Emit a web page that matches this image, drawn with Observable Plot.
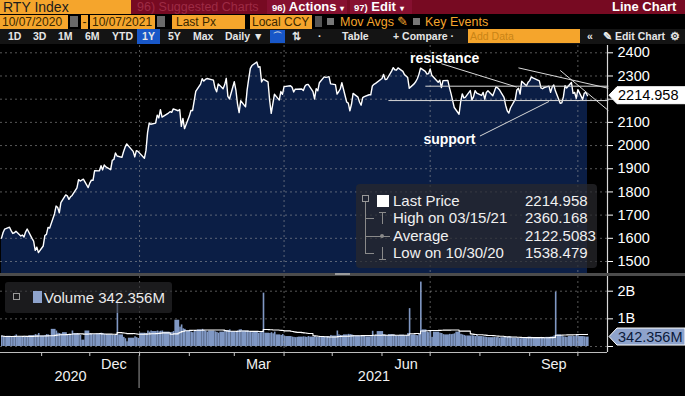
<!DOCTYPE html>
<html><head><meta charset="utf-8">
<script src="https://cdn.jsdelivr.net/npm/d3@7"></script>
<script src="https://cdn.jsdelivr.net/npm/@observablehq/plot@0.6"></script>
<style>
html,body{margin:0;padding:0;background:#000;}
body{width:685px;height:396px;overflow:hidden;font-family:"Liberation Sans",Arial,sans-serif;}
#wrap{position:relative;width:685px;height:396px;background:#000;}
.abs{position:absolute;white-space:nowrap;}
.r1{left:0;top:0;width:685px;height:14px;background:#770a22;}
.r2{left:0;top:14px;width:685px;height:15px;background:#000;}
.r3{left:0;top:29px;width:685px;height:15px;background:#141414;}
.ob{background:#f5a52c;color:#3a2800;font-size:12px;line-height:15px;height:14px;overflow:hidden;}
.r3 span{position:absolute;top:0;font-size:10.5px;line-height:15px;color:#e6e6e6;font-weight:bold;}
#main,#vol{position:absolute;left:0;}
#main{top:45px;} #vol{top:276px;}
#sep{left:0;top:273px;width:685px;height:3px;background:#4c4c4c;}
#legend{left:356px;top:184px;width:241px;height:84px;background:rgba(40,40,44,0.72);border-radius:4px;}
#legend .t{position:absolute;font-size:15px;line-height:16px;color:#f0f0f0;}
#vleg{left:5px;top:282px;width:167px;height:31px;background:rgba(45,45,48,0.6);border-radius:3px;}
</style></head>
<body><div id="wrap">
  <!-- header row 1 -->
  <div class="abs r1"></div>
  <div class="abs ob" style="left:0;top:0;width:131px;color:#1c1c1c;font-size:14px;line-height:14px;"><span style="padding-left:3px">RTY Index</span></div>
  <div class="abs" style="left:137px;top:0;font-size:12.5px;line-height:14px;color:#9e2b45;">96) Suggested Charts</div>
  <div class="abs" style="left:267px;top:0;width:80px;height:14px;background:#861030;"></div>
  <div class="abs" style="left:350px;top:0;width:62px;height:14px;background:#861030;"></div>
  <div class="abs" style="left:272px;top:0;font-size:13px;line-height:14px;color:#fff;font-weight:bold;"><span style="font-size:9.5px">96)</span> Actions <span style="font-size:8px">▾</span></div>
  <div class="abs" style="left:354px;top:0;font-size:13px;line-height:14px;color:#fff;font-weight:bold;"><span style="font-size:9.5px">97)</span> Edit <span style="font-size:8px">▾</span></div>
  <div class="abs" style="left:612px;top:0;font-size:13px;line-height:14px;color:#fff;font-weight:bold;">Line Chart</div>
  <!-- header row 2 -->
  <div class="abs r2"></div>
  <div class="abs ob" style="left:0;top:14.5px;width:68px;"><span style="padding-left:2px">10/07/2020</span></div>
  <div class="abs" style="left:70px;top:16px;width:8px;height:11px;background:#6a6a6a;"></div>
  <div class="abs ob" style="left:81px;top:14.5px;width:7px;text-align:center;">-</div>
  <div class="abs ob" style="left:90px;top:14.5px;width:65px;"><span style="padding-left:2px">10/07/2021</span></div>
  <div class="abs" style="left:157px;top:16px;width:8px;height:11px;background:#6a6a6a;"></div>
  <div class="abs ob" style="left:172px;top:14.5px;width:73px;"><span style="padding-left:4px">Last Px</span></div>
  <div class="abs ob" style="left:250px;top:14.5px;width:62px;"><span style="padding-left:2px">Local CCY</span></div>
  <div class="abs" style="left:315px;top:16px;width:7px;height:11px;background:#555;"></div>
  <div class="abs" style="left:327px;top:18px;width:7px;height:7px;background:#777;"></div>
  <div class="abs" style="left:340px;top:14.5px;font-size:12.5px;line-height:15px;color:#f5a52c;">Mov Avgs ✎</div>
  <div class="abs" style="left:413px;top:18px;width:7px;height:7px;background:#777;"></div>
  <div class="abs" style="left:425px;top:14.5px;font-size:12.5px;line-height:15px;color:#f5a52c;">Key Events</div>
  <!-- header row 3 -->
  <div class="abs r3">
    <span style="left:8px">1D</span><span style="left:33px">3D</span><span style="left:58px">1M</span><span style="left:85px">6M</span><span style="left:112px">YTD</span>
    <span style="left:137px;width:23px;height:15px;background:#1857c8;text-align:center;">1Y</span>
    <span style="left:168px">5Y</span><span style="left:193px">Max</span><span style="left:225px">Daily ▼</span>
    <span style="left:270px;width:15px;height:13px;top:1px;background:#1857c8;font-size:9px;line-height:13px;text-align:center;">⌒</span>
    <span style="left:292px">⇅</span><span style="left:318px">·</span><span style="left:342px">Table</span><span style="left:393px">+ Compare ·</span>
    <span style="left:468px;width:112px;height:14px;background:#f5a52c;color:#c98416;font-weight:normal;padding-left:2px;box-sizing:border-box;">Add Data</span>
    <span style="left:587px">«</span><span style="left:603px">✎ Edit Chart</span><span style="left:670px">⚙</span>
  </div>
  <div id="main"></div>
  <div id="sep" class="abs"><div style="position:absolute;left:335px;top:0;width:15px;height:2px;background:#9a9a9a;"></div></div>
  <div id="vol"></div>
  <div id="legend" class="abs"></div>
  <div id="vleg" class="abs">
    <div style="position:absolute;left:8px;top:11px;width:5px;height:5px;border:1px solid #999;"></div>
    <div style="position:absolute;left:28px;top:9px;width:9px;height:12px;background:#8ea3cc;"></div>
    <div style="position:absolute;left:39px;top:8px;font-size:15px;line-height:16px;color:#eaeaea;">Volume 342.356M</div>
  </div>
</div>
<script>
// ---------------- DATA ----------------
const startDate = "2020-10-07";
const endDate = "2021-10-07";
const holidays = ["2020-11-26","2020-12-25","2021-01-01","2021-01-18","2021-02-15","2021-04-02","2021-05-31","2021-07-05","2021-09-06"];

// Daily closes of RTY Index, one per trading day
const closes = [
  // Oct 2020
  1601,1625,1640,1648,1633,1621,1624,1630,1610,1614,1606,1627,1640,1600,1588,1548,1562,1538.479,
  // Nov 2020
  1567,1612,1617,1647,1644,1705,1739,1733,1710,1754,1787,1783,1768,1779,1785,1817,1853,1847,1855,1819,
  // Dec 2020
  1838,1851,1850,1892,1891,1913,1895,1916,1908,1896,1936,1940,1968,1955,1949,1973,1993,2007,1975,1951,1978,1975,
  // Jan 2021
  1945,1979,2057,2097,2092,2097,2131,2119,2155,2123,2140,2146,2143,2158,2150,2155,2083,2117,2073,
  // Feb 2021
  2127,2151,2151,2192,2234,2265,2288,2278,2285,2289,2282,2248,2232,2266,2245,2262,2290,2212,2201,
  // Mar 2021
  2275,2239,2180,2142,2193,2167,2240,2289,2333,2345,2360.168,2338,2340,2274,2286,2275,2196,2139,2180,2221,2196,2233,2221,
  // Apr 2021
  2254,2258,2251,2231,2243,2243,2244,2237,2256,2263,2264,2233,2201,2245,2236,2271,2296,2294,2295,2297,2266,
  // May 2021
  2263,2222,2232,2244,2271,2188,2183,2150,2178,2225,2209,2188,2174,2207,2211,2219,2219,2257,2264,2268,
  // Jun 2021
  2289,2307,2285,2286,2321,2336,2327,2325,2335,2320,2306,2300,2293,2247,2266,2275,2288,2307,2334,2320,2308,2310,
  // Jul 2021
  2330,2303,2273,2282,2250,2280,2281,2250,2224,2194,2164,2135,2188,2223,2205,2209,2237,2197,2210,2237,2226,
  // Aug 2021
  2216,2229,2200,2229,2236,2215,2233,2253,2249,2242,2208,2174,2150,2140,2162,2199,2240,2247,2222,2277,2258,2273,
  // Sep 2021
  2280,2296,2292,2279,2249,2245,2250,2256,2230,2252,2261,2236,2182,2184,2211,2258,2248,2272,2225,2229,2204,
  // Oct 2021
  2241,2199,2226,2229,2214.958
];

// Daily volume in millions, one per trading day
const volumesM = [
  // Oct 2020
  380,360,340,370,350,365,380,420,360,355,370,365,340,390,400,430,410,470,
  // Nov 2020
  380,400,430,420,380,620,560,480,470,450,500,430,440,410,560,470,450,400,230,560,
  // Dec 2020
  470,450,430,440,460,480,470,440,430,420,410,400,420,1620,420,330,280,170,300,350,320,290,
  // Jan 2021
  480,470,560,520,560,540,560,530,550,560,520,500,510,540,950,700,780,640,620,
  // Feb 2021
  560,520,500,540,580,600,620,580,560,520,560,530,510,480,520,540,560,580,600,
  // Mar 2021
  540,520,560,600,610,560,560,540,520,500,520,480,500,520,1930,480,470,500,460,520,420,400,430,
  // Apr 2021
  380,360,340,330,320,330,340,350,340,330,360,340,360,340,330,330,340,350,360,350,400,
  // May 2021
  380,560,420,400,390,420,440,430,420,400,380,370,380,360,370,350,360,550,380,420,
  // Jun 2021
  540,420,410,390,430,420,400,380,390,410,390,400,470,1370,420,400,390,440,2330,600,520,500,
  // Jul 2021
  560,330,520,480,470,430,420,440,430,440,460,520,440,420,400,380,380,390,380,360,400,
  // Aug 2021
  360,350,340,330,320,320,330,320,330,300,320,340,330,360,340,310,300,290,280,300,310,340,
  // Sep 2021
  340,330,310,320,330,320,310,330,340,350,380,1970,420,360,350,340,330,360,370,360,400,
  // Oct 2021
  380,360,350,340,342.356
];

const priceTicks = [1500,1600,1700,1800,1900,2000,2100,2200,2300,2400];
const priceTickLabels = ["1500","1600","1700","1800","1900","2000","2100","","2300","2400"]; // 2200 sits under the last-price tag
const volumeTicks = [0, 1e9, 2e9];
const volumeTickLabels = ["", "1B", "2B"];
const quarterLines = ["2021-01-01","2021-04-01","2021-07-01","2021-10-01"];
const monthLabels = ["2020-12-16","2021-03-16","2021-06-16","2021-09-16"];
const yearLabels = [{date: "2020-11-19", label: "2020"}, {date: "2021-05-27", label: "2021"}];
const yearBreak = "2021-01-01";
const axisEndDate = "2021-10-20";
const lastPrice = 2214.958, lastPriceLabel = "2214.958";
const lastVolume = 342.356e6, lastVolumeLabel = "342.356M";

// user-drawn trend lines (resistance / support)
const trendLines = [
  {x1: "2021-06-28", y1: 2256, x2: "2021-10-20", y2: 2256},
  {x1: "2021-06-05", y1: 2194, x2: "2021-10-20", y2: 2194},
  {x1: "2021-07-08", y1: 2353, x2: "2021-08-24", y2: 2252},
  {x1: "2021-08-25", y1: 2335, x2: "2021-10-20", y2: 2247},
  {x1: "2021-09-20", y1: 2324, x2: "2021-10-20", y2: 2151},
  {x1: "2021-08-01", y1: 2041, x2: "2021-09-13", y2: 2190}
];
const trendLabels = [
  {date: "2021-07-10", value: 2375, text: "resistance"},
  {date: "2021-07-13", value: 2026, text: "support"}
];

const legendRows = [
  {label: "Last Price", value: "2214.958", icon: "square"},
  {label: "High on 03/15/21", value: "2360.168", icon: "high"},
  {label: "Average", value: "2122.5083", icon: "avg"},
  {label: "Low on 10/30/20", value: "1538.479", icon: "low"}
];

// ---------------- BUILD ----------------
const parse = d3.utcParse("%Y-%m-%d");
const fmt = d3.utcFormat("%Y-%m-%d");
const hol = new Set(holidays);
const days = [];
for (let d = parse(startDate); d <= parse(endDate); d = d3.utcDay.offset(d, 1)) {
  const wd = d.getUTCDay();
  if (wd === 0 || wd === 6 || hol.has(fmt(d))) continue;
  days.push(d);
}
if (days.length !== closes.length || days.length !== volumesM.length) console.error("length mismatch", days.length, closes.length, volumesM.length);
const data = days.map((date, i) => ({
  date, close: closes[i], vol: volumesM[i] * 1e6,
  x1: i === 0 ? date : d3.utcDay.offset(days[i - 1], 1),
  x2: d3.utcDay.offset(date, 1)
}));
const lines = trendLines.map(d => ({x1: parse(d.x1), y1: d.y1, x2: parse(d.x2), y2: d.y2}));
const labels = trendLabels.map(d => ({...d, date: parse(d.date)}));

const xScale = {type: "utc", domain: [parse(startDate), parse(endDate)], range: [1, 587]};
const font = "Liberation Sans, Arial, sans-serif";
const gridStyle = {stroke: "#a0a0a0", strokeOpacity: 0.55, strokeDasharray: "2,3", strokeWidth: 1};

const main = Plot.plot({
  width: 685, height: 228,
  marginLeft: 0, marginRight: 78, marginTop: 0, marginBottom: 0,
  style: {background: "#000", color: "#fff", fontFamily: font, fontSize: "14.5px", overflow: "visible"},
  x: {...xScale, axis: null},
  y: {domain: [1500, 2400], range: [216, 7.3]},
  marks: [
    Plot.areaY(data, {x: "date", y1: 1300, y2: "close", fill: "#0b1e45", clip: true}),
    Plot.ruleY(priceTicks, {...gridStyle}),
    Plot.ruleX(quarterLines.map(parse), {...gridStyle}),
    Plot.line(data, {x: "date", y: "close", stroke: "#fff", strokeWidth: 1.4}),
    Plot.link(lines, {x1: "x1", y1: "y1", x2: "x2", y2: "y2", stroke: "#d8d8d8", strokeWidth: 1}),
    Plot.text(labels, {x: "date", y: "value", text: "text", fill: "#fff", fontWeight: "bold", fontSize: 14, fontFamily: font}),
    Plot.axisY({anchor: "right", label: null, ticks: priceTicks, tickSize: 5, tickPadding: 5, tickFormat: (d, i) => priceTickLabels[i], stroke: "#fff", fill: "#fff", fontSize: 14.5})
  ]
});
document.getElementById("main").appendChild(main);

const vol = Plot.plot({
  width: 685, height: 120,
  marginLeft: 0, marginRight: 78, marginTop: 0, marginBottom: 44,
  style: {background: "#000", color: "#fff", fontFamily: font, fontSize: "14.5px", overflow: "visible"},
  x: xScale,
  y: {domain: [0, 2e9], range: [70, 14.7]},
  marks: [
    Plot.rectY(data, {x1: "x1", x2: "x2", y: "vol", fill: "#8098c4"}),
    Plot.ruleY(volumeTicks, {...gridStyle}),
    Plot.ruleX(quarterLines.map(parse), {...gridStyle}),
    Plot.lineY(data, Plot.windowY({k: 20, anchor: "end", reduce: "mean"}, {x: "date", y: "vol", stroke: "#fff", strokeWidth: 1.1, curve: "step-after"})),
    Plot.axisY({anchor: "right", label: null, ticks: volumeTicks, tickSize: 5, tickPadding: 5, tickFormat: (d, i) => volumeTickLabels[i], stroke: "#fff", fill: "#fff", fontSize: 14.5}),
    Plot.axisX({label: null, ticks: d3.utcMonth.range(parse("2020-10-08"), parse(axisEndDate)), tickSize: 4, tickFormat: () => "", stroke: "#ccc"}),
    Plot.axisX({label: null, ticks: monthLabels.map(parse), tickSize: 0, tickPadding: 6, tickFormat: "%b", fill: "#f0f0f0", fontSize: 14.5}),
    Plot.text(yearLabels, {x: d => parse(d.date), text: "label", frameAnchor: "bottom", dy: 28, fill: "#f0f0f0", fontSize: 14.5, fontFamily: font})
  ]
});
document.getElementById("vol").appendChild(vol);

// ---------------- OVERLAYS (axis lines, value tags) ----------------
function addLine(svg, x1, y1, x2, y2, stroke, w) {
  d3.select(svg).append("line").attr("x1", x1).attr("y1", y1).attr("x2", x2).attr("y2", y2)
    .attr("stroke", stroke).attr("stroke-width", w || 1);
}
const axisX = 685 - 78;
addLine(main, axisX + 0.5, 0, axisX + 0.5, 228, "#d8d8d8", 1.2);
addLine(vol, axisX + 0.5, 0, axisX + 0.5, 76, "#d8d8d8", 1.2);
addLine(vol, 0, 76.5, axisX, 76.5, "#bdbdbd", 1);
const xv = vol.scale("x");
const xb = xv.apply(parse(yearBreak));
addLine(vol, xb, 79, xb, 112, "#9a9a9a", 1);

function tag(svg, y, label, fill, textFill, stroke) {
  const g = d3.select(svg).append("g").attr("text-anchor", "start");
  g.append("path").attr("d", `M609,${y} L617,${y - 8.5} L685,${y - 8.5} L685,${y + 8.5} L617,${y + 8.5} Z`)
    .attr("fill", fill).attr("stroke", stroke).attr("stroke-width", 1);
  g.append("text").attr("x", 618).attr("y", y).attr("dy", "0.36em").attr("fill", textFill)
    .attr("text-anchor", "start").attr("font-family", font).attr("font-size", 14.5).text(label);
}
tag(main, main.scale("y").apply(lastPrice), lastPriceLabel, "#ffffff", "#000", "#ffffff");
tag(vol, vol.scale("y").apply(lastVolume), lastVolumeLabel, "#8ea3cc", "#0b1a3a", "#ffffff");

// ---------------- LEGEND ----------------
const leg = document.getElementById("legend");
const rowY = [17, 34, 52, 69];
leg.insertAdjacentHTML("beforeend",
  `<div style="position:absolute;left:6px;top:11px;width:5px;height:5px;border:1px solid #999;"></div>
   <div style="position:absolute;left:9px;top:18px;width:1px;height:52px;background:#8a8a8a;"></div>`);
legendRows.forEach((r, i) => {
  const cy = rowY[i];
  let icon = "";
  if (r.icon === "square") icon = `<div style="position:absolute;left:21px;top:${cy - 6}px;width:12px;height:12px;background:#fff;"></div>`;
  else {
    icon = `<div style="position:absolute;left:10px;top:${cy}px;width:8px;height:1px;background:#8a8a8a;"></div>`;
    if (r.icon === "high") icon += `<div style="position:absolute;left:23px;top:${cy - 6}px;width:7px;height:1px;background:#8a8a8a;"></div><div style="position:absolute;left:26px;top:${cy - 6}px;width:1px;height:12px;background:#8a8a8a;"></div>`;
    if (r.icon === "avg") icon += `<div style="position:absolute;left:18px;top:${cy}px;width:16px;height:1px;background:#8a8a8a;"></div><div style="position:absolute;left:24px;top:${cy - 2}px;width:4px;height:4px;border-radius:50%;background:#8a8a8a;"></div>`;
    if (r.icon === "low") icon += `<div style="position:absolute;left:23px;top:${cy + 6}px;width:7px;height:1px;background:#8a8a8a;"></div><div style="position:absolute;left:26px;top:${cy - 6}px;width:1px;height:12px;background:#8a8a8a;"></div>`;
  }
  leg.insertAdjacentHTML("beforeend", icon +
    `<div class="t" style="left:37px;top:${cy - 8}px;">${r.label}</div>
     <div class="t" style="left:169px;top:${cy - 8}px;">${r.value}</div>`);
});
</script>
</body></html>
